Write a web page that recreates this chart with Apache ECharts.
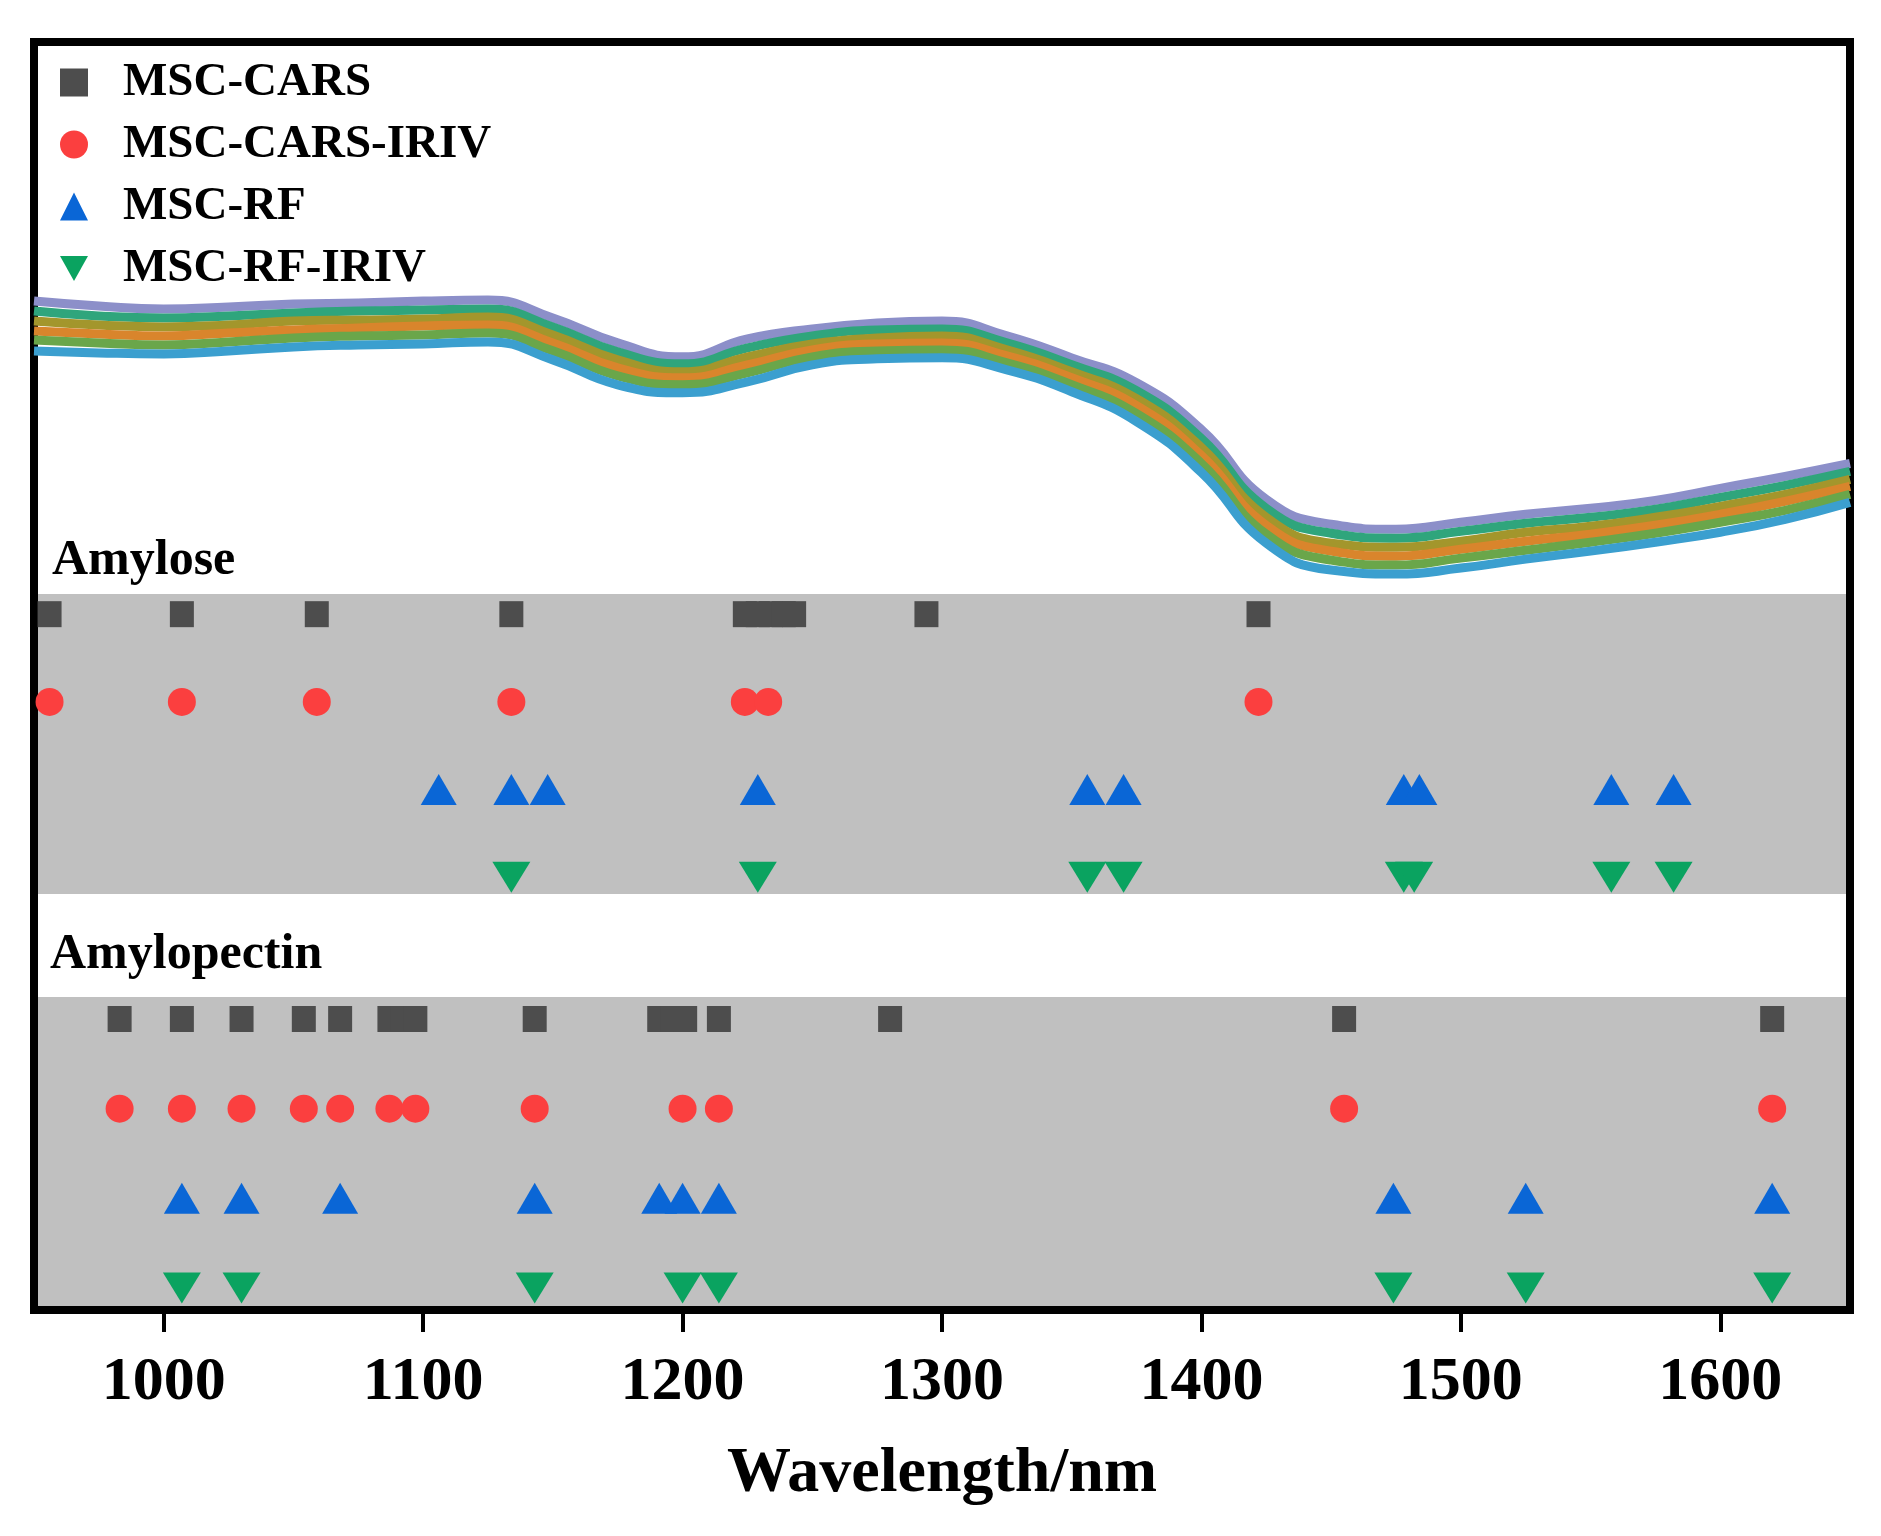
<!DOCTYPE html>
<html>
<head>
<meta charset="utf-8">
<title>Wavelength selection</title>
<script src="https://cdn.jsdelivr.net/npm/echarts@6/dist/echarts.min.js"></script>
<style>
html, body { margin: 0; padding: 0; background: #fff; }
#main { width: 1881px; height: 1536px; }
</style>
</head>
<body>
<div id="main"></div>
<script>
// x axis
var tickValues = [1000, 1100, 1200, 1300, 1400, 1500, 1600];

// spectra (MSC), arbitrary absorbance units
var specWl = [950, 975, 1000, 1025, 1050, 1075, 1100, 1125, 1150, 1175, 1200, 1225, 1250, 1275, 1300,
              1325, 1350, 1375, 1400, 1425, 1450, 1475, 1500, 1525, 1550, 1575, 1600, 1625, 1650];
var spec1 = [.394, .389, .386, .388, .391, .392, .394, .395, .377, .352, .338, .356, .366, .372, .374,
             .359, .337, .312, .265, .195, .170, .165, .172, .180, .186, .194, .206, .218, .231];
var spec2 = [.384, .379, .377, .379, .382, .384, .385, .386, .368, .343, .331, .347, .359, .365, .366,
             .352, .330, .304, .256, .186, .161, .156, .163, .171, .177, .185, .197, .209, .223];
var spec3 = [.374, .370, .368, .370, .374, .375, .376, .378, .360, .335, .323, .338, .351, .357, .359,
             .345, .323, .296, .247, .177, .151, .147, .153, .162, .168, .177, .188, .200, .215];
var spec4 = [.364, .361, .359, .362, .365, .367, .369, .370, .352, .327, .317, .330, .345, .351, .352,
             .339, .317, .289, .239, .169, .143, .138, .145, .153, .160, .169, .180, .193, .208];
var spec5 = [.355, .352, .350, .353, .357, .359, .360, .362, .344, .319, .310, .322, .338, .344, .345,
             .332, .310, .281, .231, .160, .134, .129, .136, .144, .152, .161, .172, .184, .200];
var spec6 = [.344, .342, .341, .344, .348, .350, .351, .353, .335, .310, .302, .313, .330, .336, .337,
             .325, .303, .273, .222, .151, .124, .120, .126, .135, .143, .152, .162, .175, .192];

// selected wavelengths (nm) - amylose
var amyloseCars     = [956, 1007, 1059, 1134, 1224, 1229, 1234, 1239, 1243, 1294, 1422];
var amyloseCarsIriv = [956, 1007, 1059, 1134, 1224, 1233, 1422];
var amyloseRf       = [1106, 1134, 1148, 1229, 1356, 1370, 1478, 1484, 1558, 1582];
var amyloseRfIriv   = [1134, 1229, 1356, 1370, 1478, 1482, 1558, 1582];

// selected wavelengths (nm) - amylopectin
var pectinCars     = [983, 1007, 1030, 1054, 1068, 1087, 1092, 1097, 1143, 1191, 1196, 1201, 1214, 1280, 1455, 1620];
var pectinCarsIriv = [983, 1007, 1030, 1054, 1068, 1087, 1097, 1143, 1200, 1214, 1455, 1620];
var pectinRf       = [1007, 1030, 1068, 1143, 1191, 1200, 1214, 1474, 1525, 1620];
var pectinRfIriv   = [1007, 1030, 1143, 1200, 1214, 1474, 1525, 1620];

var methods = ['MSC-CARS', 'MSC-CARS-IRIV', 'MSC-RF', 'MSC-RF-IRIV'];

var font = '"Liberation Serif", "Times New Roman", serif';
var XMIN = 950, XMAX = 1650;

var myChart = echarts.init(document.getElementById('main'), null, { renderer: 'canvas' });

function hiddenX(grid) {
    return { type: 'value', gridIndex: grid, min: XMIN, max: XMAX, show: false };
}

var specColors = ['#8c8fc9', '#2fa57c', '#a3962c', '#d9852c', '#6aa64a', '#3b9fcf'];
var specs = [spec1, spec2, spec3, spec4, spec5, spec6];

var series = specs.map(function (s, k) {
    return {
        type: 'line',
        xAxisIndex: 1,
        yAxisIndex: 1,
        smooth: true,
        symbol: 'none',
        silent: true,
        lineStyle: { width: 9, color: specColors[k] },
        data: specWl.map(function (w, i) { return [w, s[i]]; })
    };
});

// marker looks per method
var looks = [
    { symbol: 'rect', size: [24, 26], color: '#4d4d4d' },
    { symbol: 'circle', size: 28, color: '#fb3f3f' },
    { symbol: 'triangle', size: [36, 31], color: '#0a66d6' },
    { symbol: 'path://M0,0L10,0L5,9Z', size: [38, 31], color: '#0aa360' }
];

function addRows(lists, axisIdx) {
    lists.forEach(function (list, row) {
        var lk = looks[row];
        series.push({
            name: methods[row],
            type: 'scatter',
            xAxisIndex: axisIdx,
            yAxisIndex: axisIdx,
            symbol: lk.symbol,
            symbolSize: lk.size,
            itemStyle: { color: lk.color, opacity: 1 },
            silent: true,
            data: list.map(function (w) { return [w, row]; })
        });
    });
}
addRows([amyloseCars, amyloseCarsIriv, amyloseRf, amyloseRfIriv], 2);
addRows([pectinCars, pectinCarsIriv, pectinRf, pectinRfIriv], 3);

var option = {
    backgroundColor: '#fff',
    animation: false,
    legend: {
        data: methods,
        orient: 'vertical',
        left: 55,
        top: 54,
        itemGap: 15,
        itemWidth: 28,
        itemHeight: 28,
        selectedMode: false,
        textStyle: {
            fontFamily: font, fontWeight: 'bold', fontSize: 47, color: '#000',
            lineHeight: 46, padding: [0, 0, 0, 30]
        }
    },
    grid: [
        // spectra
        { left: 34, right: 31, top: 46, bottom: 942, outerBoundsMode: 'none' },
        // amylose band
        { left: 34, right: 31, top: 594, bottom: 642, show: true, backgroundColor: '#c0c0c0', borderWidth: 0, outerBoundsMode: 'none' },
        // amylopectin band
        { left: 34, right: 31, top: 997, bottom: 230, show: true, backgroundColor: '#c0c0c0', borderWidth: 0, outerBoundsMode: 'none' },
        // frame + wavelength axis
        { left: 34, right: 31, top: 42, bottom: 226, show: true, backgroundColor: 'transparent', borderColor: '#000', borderWidth: 8, outerBoundsMode: 'none' }
    ],
    xAxis: [
        {
            type: 'value', gridIndex: 3, min: XMIN, max: XMAX,
            name: 'Wavelength/nm', nameLocation: 'middle', nameGap: 132,
            nameTextStyle: { fontFamily: font, fontWeight: 'bold', fontSize: 64, color: '#000' },
            axisLine: { show: true, lineStyle: { color: '#000', width: 8 } },
            axisTick: { show: true, inside: false, length: 22, customValues: tickValues, lineStyle: { color: '#000', width: 4 } },
            axisLabel: {
                show: true, margin: 42, customValues: tickValues,
                formatter: function (v) { return String(v); },
                fontFamily: font, fontWeight: 'bold', fontSize: 62, color: '#000'
            },
            splitLine: { show: false }
        },
        hiddenX(0),
        hiddenX(1),
        hiddenX(2)
    ],
    yAxis: [
        { type: 'value', gridIndex: 3, show: false },
        { type: 'value', gridIndex: 0, min: 0.1, max: 0.65, show: false },
        { type: 'value', gridIndex: 1, min: -0.23, max: 3.19, inverse: true, show: false },
        { type: 'value', gridIndex: 2, min: -0.245, max: 3.2, inverse: true, show: false }
    ],
    graphic: [
        { type: 'text', left: 52, top: 536, style: { text: 'Amylose', font: 'bold 50px ' + font, fill: '#000' } },
        { type: 'text', left: 50, top: 930, style: { text: 'Amylopectin', font: 'bold 50px ' + font, fill: '#000' } }
    ],
    series: series
};

myChart.setOption(option);
</script>
</body>
</html>
